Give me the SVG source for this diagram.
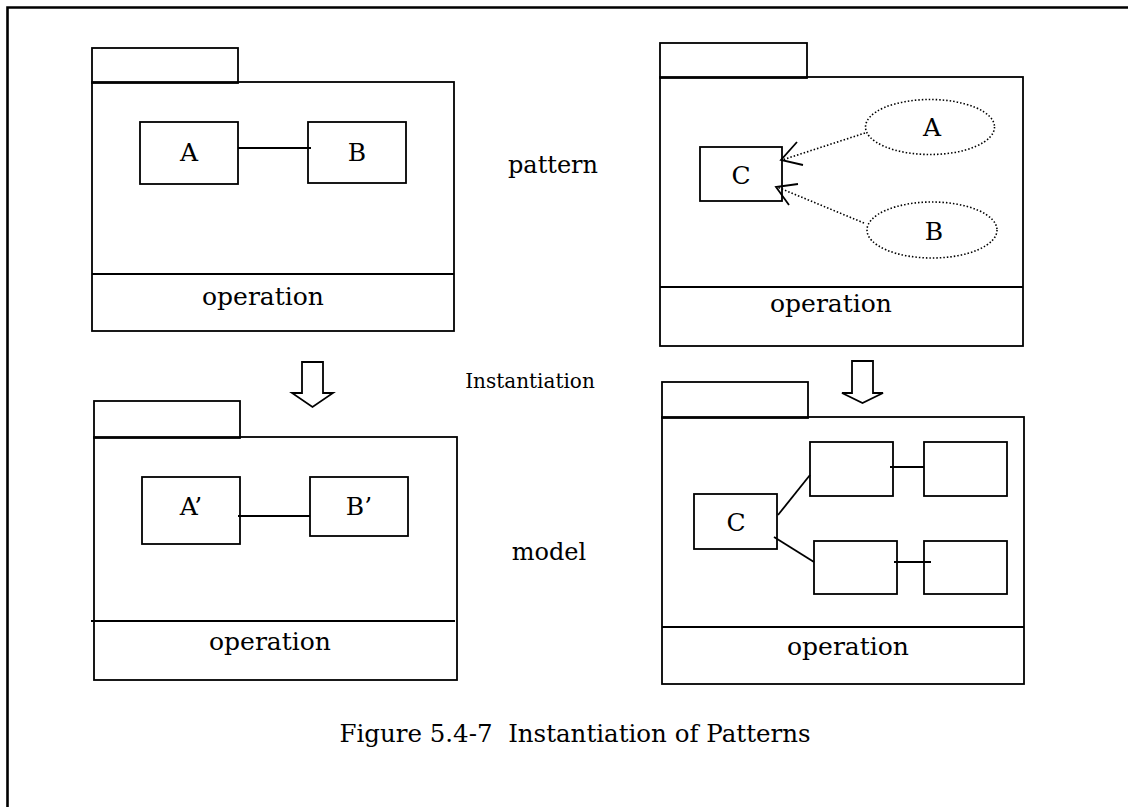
<svg xmlns="http://www.w3.org/2000/svg" width="1128" height="807" viewBox="0 0 1128 807">
<style>
.s{fill:none;stroke:#000;stroke-width:1.8}
.w{fill:#fff;stroke:#000;stroke-width:1.8}
.d{fill:none;stroke:#000;stroke-width:1.6;stroke-dasharray:1.5 2}
.t{font-family:"DejaVu Serif","Liberation Serif",serif;fill:#000;text-anchor:middle}
.big{font-size:25px}
.med{font-size:24px}
.sm{font-size:20px}
.cap{font-family:"DejaVu Serif","Liberation Serif",serif;font-size:24.5px;fill:#000;text-anchor:middle;white-space:pre}
</style>
<rect width="1128" height="807" fill="#fff"/>
<path d="M7.5 807 V7.5 H1128" fill="none" stroke="#000" stroke-width="2.6"/>

<g id="pkg-pattern-left">
<rect class="s" x="92" y="48" width="146" height="35"/>
<rect class="s" x="92" y="82" width="362" height="249"/>
<line class="s" x1="92" y1="274" x2="454" y2="274"/>
<text class="t big" x="263" y="305">operation</text>
</g>
<g id="node-A">
<rect class="s" x="140" y="122" width="98" height="62"/>
<text class="t big" x="189" y="161">A</text>
</g>
<g id="node-B">
<rect class="s" x="308" y="122" width="98" height="61"/>
<text class="t big" x="357" y="161">B</text>
</g>

<g id="pkg-pattern-right">
<rect class="s" x="660" y="43" width="147" height="35"/>
<rect class="s" x="660" y="77" width="363" height="269"/>
<line class="s" x1="660" y1="287" x2="1023" y2="287"/>
<text class="t big" x="831" y="312">operation</text>
</g>
<g id="node-C-top">
<rect class="s" x="700" y="147" width="82" height="54"/>
<text class="t big" x="741" y="184">C</text>
</g>
<g id="node-A-ellipse">
<ellipse class="d" cx="930" cy="127" rx="64.5" ry="27.5"/>
<text class="t big" x="932" y="136">A</text>
</g>
<g id="node-B-ellipse">
<ellipse class="d" cx="932" cy="230" rx="65" ry="28"/>
<text class="t big" x="934" y="240">B</text>
</g>

<g id="pkg-model-left">
<rect class="s" x="94" y="401" width="146" height="37"/>
<rect class="s" x="94" y="437" width="363" height="243"/>
<line class="s" x1="91" y1="621" x2="455" y2="621"/>
<text class="t big" x="270" y="650">operation</text>
</g>
<g id="node-A2">
<rect class="s" x="142" y="477" width="98" height="67"/>
<text class="t big" x="191" y="515">A’</text>
</g>
<g id="node-B2">
<rect class="s" x="310" y="477" width="98" height="59"/>
<text class="t big" x="359" y="515">B’</text>
</g>

<g id="pkg-model-right">
<rect class="s" x="662" y="382" width="146" height="36"/>
<rect class="s" x="662" y="417" width="362" height="267"/>
<line class="s" x1="662" y1="627" x2="1024" y2="627"/>
<text class="t big" x="848" y="655">operation</text>
</g>
<g id="node-C-bottom">
<rect class="s" x="694" y="494" width="83" height="55"/>
<text class="t big" x="736" y="531">C</text>
</g>
<g id="node-r1"><rect class="s" x="810" y="442" width="83" height="54"/></g>
<g id="node-r2"><rect class="s" x="924" y="442" width="83" height="54"/></g>
<g id="node-r3"><rect class="s" x="814" y="541" width="83" height="53"/></g>
<g id="node-r4"><rect class="s" x="924" y="541" width="83" height="53"/></g>

<g id="labels">
<text class="t med" x="553" y="173">pattern</text>
<text class="t sm" x="530" y="388">Instantiation</text>
<text class="t med" x="549" y="560">model</text>
<text class="cap" x="575" y="742" xml:space="preserve">Figure 5.4-7  Instantiation of Patterns</text>
</g>

<g id="connectors">
<line class="s" x1="238" y1="148" x2="311" y2="148"/>
<line class="s" x1="238" y1="516" x2="310" y2="516"/>
<line class="d" x1="865" y1="133" x2="782" y2="160"/>
<polyline class="s" points="797,142 781,160 803,165"/>
<line class="d" x1="864" y1="223" x2="777" y2="187"/>
<polyline class="s" points="798,184 776,187 789,205"/>
<line class="s" x1="890" y1="467" x2="924" y2="467"/>
<line class="s" x1="894" y1="562" x2="931" y2="562"/>
<line class="s" x1="778" y1="515" x2="810" y2="475"/>
<line class="s" x1="774" y1="537" x2="814" y2="562"/>
<path class="w" d="M302 362 H323 V393 H333 L312.5 407 L292 393 H302 Z"/>
<path class="w" d="M852 361 H873 V393 H883 L862.5 403 L842 393 H852 Z"/>
</g>
</svg>
